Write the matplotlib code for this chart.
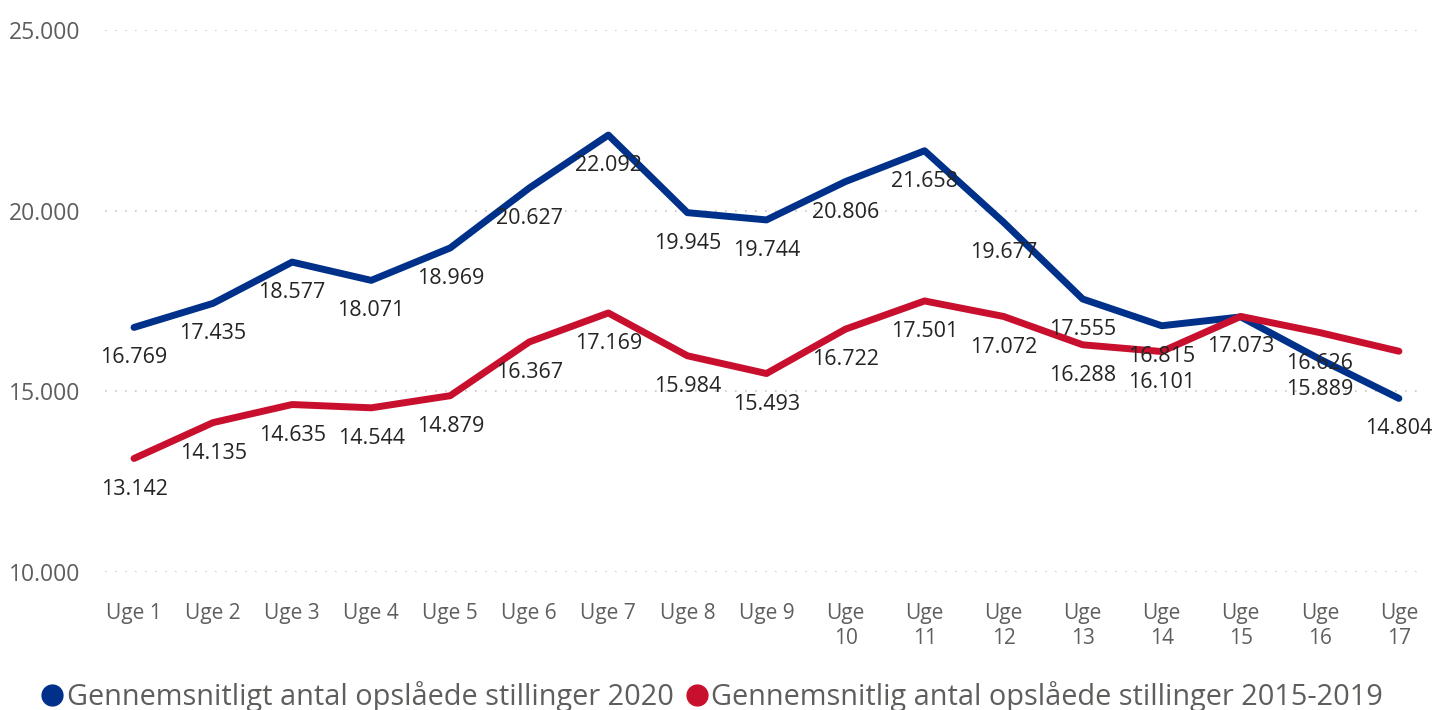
import matplotlib
matplotlib.use("Agg")
import matplotlib.pyplot as plt
from matplotlib.lines import Line2D

# data
uger = ["Uge 1", "Uge 2", "Uge 3", "Uge 4", "Uge 5", "Uge 6", "Uge 7", "Uge 8", "Uge 9",
        "Uge\n10", "Uge\n11", "Uge\n12", "Uge\n13", "Uge\n14", "Uge\n15", "Uge\n16", "Uge\n17"]
stillinger_2020 = [16769, 17435, 18577, 18071, 18969, 20627, 22092, 19945, 19744,
                   20806, 21658, 19677, 17555, 16815, 17060, 15889, 14804]
stillinger_2015_2019 = [13142, 14135, 14635, 14544, 14879, 16367, 17169, 15984, 15493,
                        16722, 17501, 17072, 16288, 16101, 17073, 16626, 16110]
# labels that are shown (some are hidden in the original because of overlap)
vis_2020 = [True] * 14 + [False, True, True]
vis_2015 = [True] * 16 + [False]

navn_2020 = "Gennemsnitligt antal opslåede stillinger 2020"
navn_2015 = "Gennemsnitlig antal opslåede stillinger 2015-2019"

BLAA = "#00318A"
ROED = "#C8102E"
GRAA = "#605E5C"

plt.rcParams['font.family'] = ['Open Sans', 'DejaVu Sans']

fig = plt.figure(figsize=(14.33, 7.10), dpi=100)
ax = fig.add_axes([105 / 1433, 1 - 572 / 710, 1320 / 1433, 542 / 710])

x = list(range(len(uger)))
ax.plot(x, stillinger_2020, color=BLAA, lw=5, solid_capstyle='round', solid_joinstyle='round', clip_on=False, zorder=3)
ax.plot(x, stillinger_2015_2019, color=ROED, lw=5, solid_capstyle='round', solid_joinstyle='round', clip_on=False, zorder=3)

def fmt(v):
    return f"{v:,}".replace(",", ".")

for serie, vis in ((stillinger_2020, vis_2020), (stillinger_2015_2019, vis_2015)):
    for i, v in enumerate(serie):
        if vis[i]:
            ax.annotate(fmt(v), (i, v), xytext=(0, -22), textcoords='offset points',
                        ha='center', va='center', fontsize=15.5, color='#252423', zorder=4)

ax.set_xlim(-0.367, 16.33)
ax.set_ylim(10000, 25000)
ax.set_yticks([10000, 15000, 20000, 25000])
ax.set_yticklabels([fmt(t) for t in [10000, 15000, 20000, 25000]])
ax.set_xticks(x)
ax.set_xticklabels(uger, linespacing=1.3)
ax.tick_params(axis='both', length=0, labelcolor=GRAA)
ax.tick_params(axis='x', pad=22, labelsize=15)
ax.tick_params(axis='y', pad=18, labelsize=16.5)
ax.grid(axis='y', color='#C8C6C4', linestyle=(0, (1, 5)), lw=1.2)
ax.set_axisbelow(True)
for s in ax.spines.values():
    s.set_visible(False)

handles = [Line2D([], [], marker='o', ls='none', color=BLAA, markersize=15),
           Line2D([], [], marker='o', ls='none', color=ROED, markersize=15)]
leg = fig.legend(handles, [navn_2020, navn_2015], loc='lower left', bbox_to_anchor=(12 / 1433, -0.04),
                 ncol=2, frameon=False, fontsize=20.8, handletextpad=0.0, columnspacing=0.3,
                 handlelength=1.0, labelcolor=GRAA)

fig.savefig("out.png", dpi=100)
